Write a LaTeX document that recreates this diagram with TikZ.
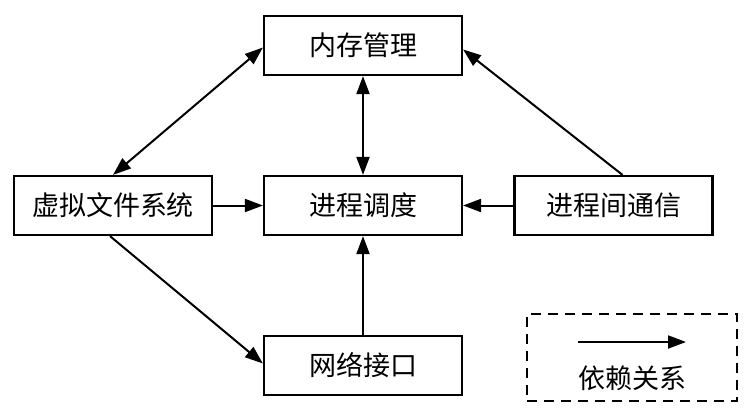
\documentclass[tikz,border=0pt]{standalone}
\usepackage{fontspec}
\newfontfamily\cjk{Noto Sans CJK SC}
\usetikzlibrary{arrows.meta,calc}
\begin{document}
\begin{tikzpicture}[x=1pt,y=-1pt,
  box/.style={draw, line width=2.2pt, rectangle, minimum width=198pt, minimum height=59pt, inner sep=0pt, font=\cjk\fontsize{27}{30}\selectfont},
  link/.style={line width=2pt, -{Triangle[length=18pt,width=13pt]}},
  blink/.style={line width=2pt, {Triangle[length=18pt,width=13pt]}-{Triangle[length=18pt,width=13pt]}}]
\useasboundingbox[fill=white] (0,0) rectangle (750,420);
\node[box] (mem) at (363,45.5) {内存管理};
\node[box] (sch) at (363,205.5) {进程调度};
\node[box] (vfs) at (113,205.5) {虚拟文件系统};
\node[box] (ipc) at (613.5,205.5) {进程间通信};
\node[box] (net) at (363,365.5) {网络接口};
\draw[blink] (vfs.north) -- ($(mem.west)+(0,2)$);
\draw[blink] (mem.south) -- (sch.north);
\draw[link] ($(ipc.north)+(9,0)$) -- ($(mem.east)+(0,4)$);
\draw[link] (vfs.east) -- (sch.west);
\draw[link] (ipc.west) -- (sch.east);
\draw[link] (net.north) -- (sch.south);
\draw[link] ($(vfs.south)+(-3,0)$) -- ($(net.west)+(0,-2)$);
\node[draw, dashed, dash pattern=on 10pt off 7pt, line width=2.2pt, minimum width=210pt, minimum height=87pt, inner sep=0pt] (leg) at (632,357.5) {};
\coordinate (la) at (578,342);
\coordinate (lb) at (686,342);
\draw[link] (la) -- (lb);
\node[font=\cjk\fontsize{27}{30}\selectfont] (lt) at (632,378) {依赖关系};
\end{tikzpicture}
\end{document}
